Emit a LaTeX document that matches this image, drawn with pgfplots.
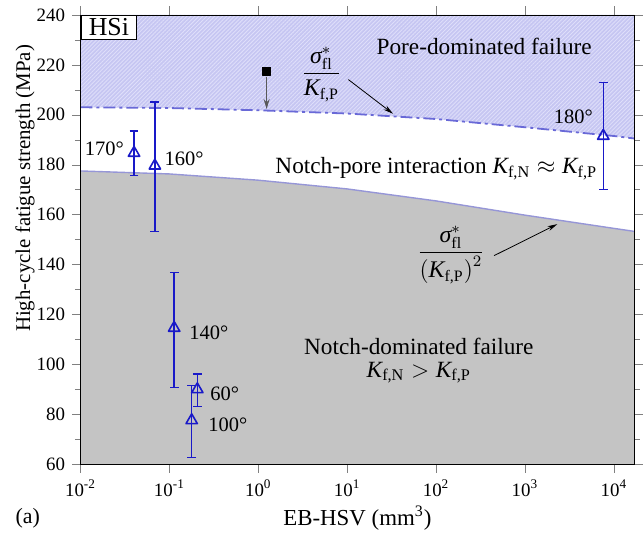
\documentclass[border=0pt]{standalone}
\usepackage{fontspec}
\setmainfont{Liberation Serif}
\usepackage{amsmath}
\usepackage{pgfplots}
\pgfplotsset{compat=1.18}
\usepgfplotslibrary{fillbetween}
\usetikzlibrary{patterns.meta,arrows.meta}
\definecolor{lav}{RGB}{198,198,242}
\definecolor{lavhatch}{RGB}{222,222,250}
\definecolor{grayfill}{RGB}{196,196,196}
\definecolor{dashblue}{RGB}{105,105,215}
\definecolor{lowline}{RGB}{150,150,215}
\definecolor{ptblue}{RGB}{25,25,200}
\begin{document}
\begin{tikzpicture}
\begin{axis}[
  at={(0,0)}, anchor=south west,
  scale only axis, width=278.5pt, height=226pt,
  xmode=log, log basis x=10,
  xmin=0.01, xmax=17000, ymin=60, ymax=240,
  xtick={0.01,0.1,1,10,100,1000,10000},
  xticklabels={10\textsuperscript{-2},10\textsuperscript{-1},10\textsuperscript{0},10\textsuperscript{1},10\textsuperscript{2},10\textsuperscript{3},10\textsuperscript{4}},
  ytick={60,80,...,240}, minor y tick num=1,
  tick align=outside,
  axis on top,
  /pgf/number format/assume math mode=true,
  ticklabel style={font=\fontsize{9.5}{11}\selectfont},
  xlabel={EB-HSV (mm\textsuperscript{3})},
  ylabel={High-cycle fatigue strength (MPa)},
  xlabel style={font=\fontsize{11.5}{13}\selectfont, at={(axis description cs:0.5,-0.12)}, anchor=center},
  ylabel style={font=\fontsize{10.5}{13}\selectfont, at={(axis description cs:-0.1,0.614)}, anchor=center},
  every axis plot/.append style={line join=round},
]
% boundary curves
\addplot[name path=up, draw=none, forget plot] coordinates {
 (0.01,203) (0.1,202.7) (1,201.8) (10,200.5) (100,198.3) (1000,195) (10000,191.5) (17000,190.5)};
\addplot[name path=top, draw=none, forget plot] coordinates {(0.01,240) (17000,240)};
\addplot[fill=lav, draw=none] fill between[of=up and top];
\addplot[draw=none, pattern={Lines[angle=45,distance=1.4pt,line width=0.45pt]}, pattern color=lavhatch] fill between[of=up and top];
\addplot[fill=grayfill, draw=none] coordinates {
 (0.01,177.5) (0.1,176.3) (1,173.8) (10,170.3) (100,165.5) (1000,159.8) (10000,154.5) (17000,153.3)} \closedcycle;
\addplot[lowline, line width=0.7pt] coordinates {
 (0.01,177.5) (0.1,176.3) (1,173.8) (10,170.3) (100,165.5) (1000,159.8) (10000,154.5) (17000,153.3)};
\addplot[dashblue, line width=0.9pt, dash pattern=on 6pt off 2pt on 1.5pt off 2pt] coordinates {
 (0.01,203) (0.1,202.7) (1,201.8) (10,200.5) (100,198.3) (1000,195) (10000,191.5) (17000,190.5)};
% data
\addplot[ptblue, only marks, mark=triangle, mark size=3.3pt, mark options={line width=0.8pt, fill=white},
  error bars/.cd, y dir=both, y explicit,
  error bar style={line width=0.7pt, ptblue},
  error mark options={rotate=90, mark size=2.2pt, line width=0.6pt}]
 coordinates {
 (0.040,184.7) += (0,8.8) -= (0,9.1)
 (0.0686,179.6) += (0,25.5) -= (0,26.5)
 (0.113,114.6) += (0,22.3) -= (0,23.7)
 (0.206,90.0) += (0,6.2) -= (0,7.0)
 (0.178,77.6) += (0,14.1) -= (0,14.8)
 (7600,191.5) += (0,21.5) -= (0,21.3)
 };
% black square with arrow
\addplot[black, only marks, mark=square*, mark size=2pt] coordinates {(1.24,217.4)};
\addplot[gray!70!black, line width=0.6pt, -{Stealth[length=5pt,width=3pt]}] coordinates {(1.24,215.2) (1.24,202.3)};
% annotations
\node[draw, fill=white, line width=0.5pt, anchor=north west, minimum width=28pt, minimum height=12pt, inner sep=0.5pt, font=\fontsize{13}{14}\selectfont] at (rel axis cs:0,1) {HSi};
\node[font=\fontsize{11.7}{13}\selectfont] at (axis cs:348,227.4) {Pore-dominated failure};
\node[font=\fontsize{12}{13}\selectfont] at (axis cs:5.13,216.1) {$\dfrac{\text{\itshape σ}^{*}_{\text{fl}}}{\text{\itshape K}_{\text{f,P}}}$};
\draw[black, line width=0.4pt, -{Stealth[length=5pt,width=2.5pt]}] (axis cs:10.3,214.1) -- (axis cs:32.8,200.4);
\node[anchor=west, font=\fontsize{11.7}{13}\selectfont] at (axis cs:1.3,178.5) {Notch-pore interaction $\text{\itshape K}_{\text{f,N}}\approx \text{\itshape K}_{\text{f,P}}$};
\node[font=\fontsize{12}{13}\selectfont] at (axis cs:147,143.8) {$\dfrac{\text{\itshape σ}^{*}_{\text{fl}}}{\left(\text{\itshape K}_{\text{f,P}}\right)^{2}}$};
\draw[black, line width=0.4pt, -{Stealth[length=5pt,width=2.5pt]}] (axis cs:450,143.6) -- (axis cs:2312,156.2);
\node[align=center, font=\fontsize{11.7}{11.5}\selectfont] at (axis cs:64,101.5) {Notch-dominated failure\\$\text{\itshape K}_{\text{f,N}} > \text{\itshape K}_{\text{f,P}}$};
\node[anchor=east, inner sep=1pt, font=\fontsize{10.3}{12}\selectfont] at (axis cs:0.0327,186.5) {170°};
\node[anchor=west, inner sep=1pt, font=\fontsize{10.3}{12}\selectfont] at (axis cs:0.0828,182.5) {160°};
\node[anchor=west, inner sep=1pt, font=\fontsize{10.3}{12}\selectfont] at (axis cs:0.158,112.6) {140°};
\node[anchor=west, inner sep=1pt, font=\fontsize{10.3}{12}\selectfont] at (axis cs:0.271,88.3) {60°};
\node[anchor=west, inner sep=1pt, font=\fontsize{10.3}{12}\selectfont] at (axis cs:0.258,76) {100°};
\node[anchor=east, inner sep=1pt, font=\fontsize{10.3}{12}\selectfont] at (axis cs:6170,199) {180°};
\end{axis}
\node[font=\fontsize{11}{12}\selectfont] at (-26.5pt,-27pt) {(a)};
\path (-40.5pt,-41pt) rectangle (281pt,233.5pt);
\end{tikzpicture}
\end{document}
